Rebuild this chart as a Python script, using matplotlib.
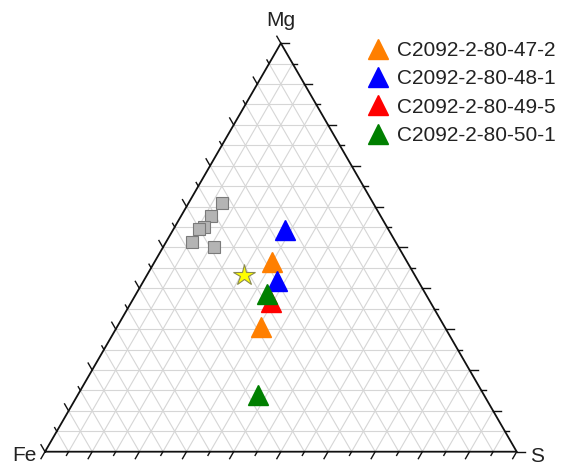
import numpy as np
import matplotlib.pyplot as plt

# ==========================================================
# DATA (percent, Fe + Mg + S = 100)
# ==========================================================

series_labels = [
    "C2092-2-80-47-2",
    "C2092-2-80-48-1",
    "C2092-2-80-49-5",
    "C2092-2-80-50-1"
]

series_colors = ["#ff7f00", "#0000ff", "#ff0000", "#007f00"]

series_mg = [
    [46.4, 30.5],
    [54.3, 41.9],
    [36.7],
    [38.6, 13.9]
]

series_s = [
    [24.9, 30.5],
    [23.8, 28.3],
    [29.6],
    [27.7, 38.2]
]

# grey reference squares
ref_mg = [61.0, 57.7, 55.1, 54.4, 51.3, 50.1]
ref_s = [7.0, 6.3, 6.2, 5.5, 5.6, 10.8]

# star
star_mg = [43.2]
star_s = [20.6]

corner_labels = ["Fe", "S", "Mg"]

# ==========================================================
# HELPERS
# ==========================================================

H = np.sqrt(3) / 2


def to_xy(mg, s):
    mg = np.asarray(mg, dtype=float) / 100
    s = np.asarray(s, dtype=float) / 100
    return s + mg / 2, mg * H


plt.rcParams["font.family"] = ["Liberation Sans", "DejaVu Sans"]

fig = plt.figure(figsize=(5.64, 4.65), dpi=100)
ax = fig.add_axes([45 / 564, 13.3 / 465, 471.7 / 564, 408.5 / 465])
ax.set_xlim(0, 1)
ax.set_ylim(0, H)
ax.axis("off")

# ==========================================================
# GRID
# ==========================================================

grid_kw = dict(color="#d6d6d6", lw=0.8, zorder=1)

for k in range(1, 20):
    t = k / 20
    # constant Mg
    ax.plot([t / 2, 1 - t / 2], [t * H, t * H], **grid_kw)
    # constant S
    ax.plot([t, t + (1 - t) / 2], [0, (1 - t) * H], **grid_kw)
    # constant Fe
    ax.plot([1 - t, (1 - t) / 2], [0, (1 - t) * H], **grid_kw)

# ==========================================================
# FRAME AND TICKS
# ==========================================================

ax.plot([0, 1, 0.5, 0], [0, 0, H, 0], color="#111111", lw=1.3,
        zorder=3, clip_on=False)

major_len = 0.017
minor_len = 0.009

for k in range(0, 21):
    t = k / 20
    length = major_len if k % 2 == 0 else minor_len
    # bottom edge (S), ticks down-left
    ax.plot([t, t - 0.5 * length], [0, -H * length],
            color="#111111", lw=1.0, clip_on=False, zorder=3)
    # right edge (Mg), ticks to the right
    x0, y0 = 1 - t / 2, t * H
    ax.plot([x0, x0 + length], [y0, y0],
            color="#111111", lw=1.0, clip_on=False, zorder=3)
    # left edge (Fe), ticks up-left
    x0, y0 = t / 2, t * H
    ax.plot([x0, x0 - 0.5 * length], [y0, y0 + H * length],
            color="#111111", lw=1.0, clip_on=False, zorder=3)

# ==========================================================
# POINTS
# ==========================================================

x, y = to_xy(ref_mg, ref_s)
ax.plot(x, y, "s", ms=9, mfc="#b4b4b4", mec="#7a7a7a", mew=0.8,
        zorder=4, clip_on=False)

x, y = to_xy(star_mg, star_s)
ax.plot(x, y, "*", ms=16, mfc="#ffff00", mec="#8a8a50", mew=0.8,
        zorder=4, clip_on=False)

handles = []
for label, color, mg, s in zip(series_labels, series_colors,
                               series_mg, series_s):
    x, y = to_xy(mg, s)
    h, = ax.plot(x, y, "^", ms=14, color=color, mec=color, ls="none",
                 label=label, zorder=5, clip_on=False)
    handles.append(h)

# ==========================================================
# LABELS AND LEGEND
# ==========================================================

fig.text(280.8 / 564, 1 - 20 / 465, corner_labels[2], fontsize=15,
         ha="center", va="center", color="#222222")
fig.text(37 / 564, 1 - 455 / 465, corner_labels[0], fontsize=15,
         ha="right", va="center", color="#222222")
fig.text(530 / 564, 1 - 456 / 465, corner_labels[1], fontsize=15,
         ha="left", va="center", color="#222222")

leg = fig.legend(handles=handles, loc="upper left",
                 bbox_to_anchor=(368 / 564, 1 - 41 / 465),
                 frameon=False, fontsize=15, handlelength=1.0,
                 handletextpad=0.4, labelspacing=0.45, borderpad=0,
                 borderaxespad=0)
for txt in leg.get_texts():
    txt.set_color("#222222")

fig.savefig("out.png", dpi=100)
